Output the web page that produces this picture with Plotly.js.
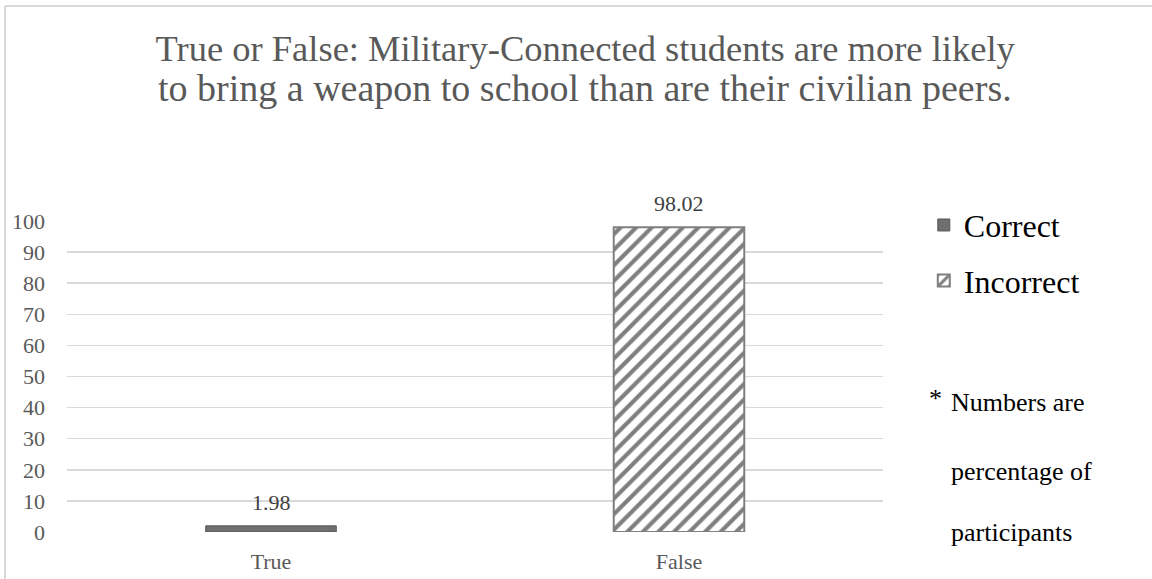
<!DOCTYPE html>
<html>
<head>
<meta charset="utf-8">
<script src="https://cdn.plot.ly/plotly-3.0.1.min.js"></script>
<style>html,body{margin:0;padding:0;background:#fff;}#chart{width:1152px;height:579px;}</style>
</head>
<body>
<div id="chart"></div>
<script>
const categories = ["True", "False"];
const correctValues = [1.98, null];
const incorrectValues = [null, 98.02];
const seriesNames = ["Correct", "Incorrect"];
const yTicks = [0, 10, 20, 30, 40, 50, 60, 70, 80, 90, 100];
const titleLines = ["True or False: Military-Connected students are more likely",
                    "to bring a weapon to school than are their civilian peers."];
const noteLines = ["Numbers are", "percentage of", "participants"];

const serif = "'Liberation Serif', 'Times New Roman', Times, serif";
const fmt = v => v.toFixed(2);

const traces = [
  {
    type: "bar", name: seriesNames[0], x: categories, y: correctValues,
    legendgroup: "a",
    marker: {color: "#6f6f6f", line: {color: "#595959", width: 1}},
    hoverinfo: "skip"
  },
  {
    type: "bar", name: seriesNames[1], x: categories, y: incorrectValues,
    legendgroup: "b",
    marker: {color: "#ffffff", line: {color: "#7f7f7f", width: 2},
      pattern: {shape: "/", fgcolor: "#7f7f7f", bgcolor: "#ffffff", size: 11, solidity: 0.38}},
    hoverinfo: "skip"
  }
];

// data labels from the series arrays, positioned through the axes
const labelAnns = [];
[correctValues, incorrectValues].forEach(series => {
  series.forEach((v, i) => {
    if (v === null) return;
    labelAnns.push({
      xref: "x", yref: "y", x: categories[i], y: v, yanchor: "bottom", xanchor: "center",
      yshift: 9, text: fmt(v), showarrow: false,
      font: {family: serif, size: 22, color: "#404040"}
    });
  });
});

const titleLine2 = {
  xref: "paper", yref: "paper", x: 0.635, y: 1.429, xanchor: "center", yanchor: "middle",
  text: titleLines[1], showarrow: false, font: {family: serif, size: 38, color: "#595959"}
};

const noteAnns = [
  {xref: "paper", yref: "paper", x: 1.054, y: 0.43, xanchor: "left", yanchor: "middle",
   text: "*", showarrow: false, font: {family: serif, size: 26, color: "#000"}},
  {xref: "paper", yref: "paper", x: 1.081, y: 0.415, xanchor: "left", yanchor: "middle",
   text: noteLines[0], showarrow: false, font: {family: serif, size: 26, color: "#000"}},
  {xref: "paper", yref: "paper", x: 1.081, y: 0.193, xanchor: "left", yanchor: "middle",
   text: noteLines[1], showarrow: false, font: {family: serif, size: 26, color: "#000"}},
  {xref: "paper", yref: "paper", x: 1.081, y: -0.003, xanchor: "left", yanchor: "middle",
   text: noteLines[2], showarrow: false, font: {family: serif, size: 26, color: "#000"}}
];

const layout = {
  width: 1152, height: 579,
  margin: {l: 67, r: 269, t: 221, b: 47, pad: 0},
  paper_bgcolor: "#ffffff", plot_bgcolor: "#ffffff",
  barmode: "overlay", bargap: 0.68,
  title: {text: titleLines[0], x: 0.635, xref: "paper", xanchor: "center",
    yref: "container", y: 0.916, yanchor: "middle",
    font: {family: serif, size: 36.5, color: "#595959"}},
  xaxis: {
    showgrid: false, zeroline: false, showline: false, ticks: "", ticklabelstandoff: 14,
    tickfont: {family: serif, size: 22, color: "#595959"}, fixedrange: true
  },
  yaxis: {
    range: [0, 100], tickvals: yTicks, ticktext: yTicks.map(String),
    showgrid: true, gridcolor: "#d9d9d9", gridwidth: 1.5, zeroline: false, showline: false,
    ticks: "", ticklabelstandoff: 21,
    tickfont: {family: serif, size: 22, color: "#595959"}, fixedrange: true
  },
  showlegend: true,
  legend: {
    x: 1.05, y: 1.075, xanchor: "left", yanchor: "top",
    font: {family: serif, size: 32, color: "#000"},
    traceorder: "grouped", tracegroupgap: 11, itemclick: false, itemdoubleclick: false
  },
  annotations: [titleLine2].concat(labelAnns, noteAnns),
  shapes: [
    {type: "line", xref: "paper", yref: "paper", x0: -0.076, x1: 1.4, y0: 1.691, y1: 1.691,
     line: {color: "#d9d9d9", width: 2}},
    {type: "line", xref: "paper", yref: "paper", x0: -0.076, x1: -0.076, y0: 1.691, y1: -0.2,
     line: {color: "#d9d9d9", width: 2}}
  ]
};

Plotly.newPlot("chart", traces, layout, {displayModeBar: false, staticPlot: true});
</script>
</body>
</html>
